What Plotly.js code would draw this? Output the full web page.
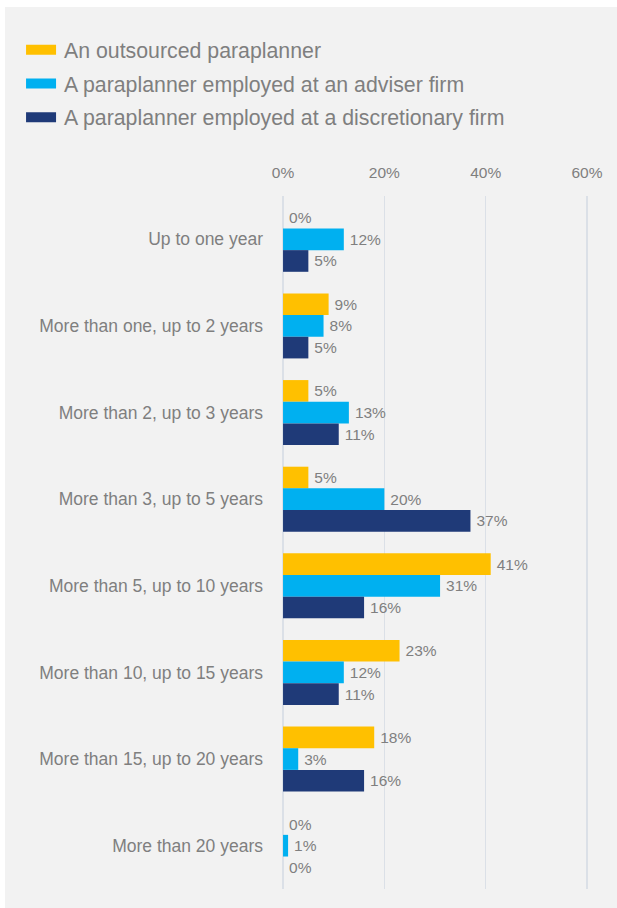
<!DOCTYPE html>
<html>
<head>
<meta charset="utf-8">
<script src="https://cdn.plot.ly/plotly-3.0.1.min.js"></script>
<style>
  html, body { margin: 0; padding: 0; background: #ffffff; }
  #chart { position: absolute; left: 5px; top: 7px; width: 612px; height: 901px; }
</style>
</head>
<body>
<div id="chart"></div>
<script>
const categories = [
  "Up to one year",
  "More than one, up to 2 years",
  "More than 2, up to 3 years",
  "More than 3, up to 5 years",
  "More than 5, up to 10 years",
  "More than 10, up to 15 years",
  "More than 15, up to 20 years",
  "More than 20 years"
];
const seriesNames = [
  "An outsourced paraplanner",
  "A paraplanner employed at an adviser firm",
  "A paraplanner employed at a discretionary firm"
];
const outsourced = [0, 9, 5, 5, 41, 23, 18, 0];
const adviser = [12, 8, 13, 20, 31, 12, 3, 1];
const discretionary = [5, 5, 11, 37, 16, 11, 16, 0];
const seriesColors = ["#FFC000", "#00B0F0", "#1F3A78"];
const tickVals = [0, 20, 40, 60];
const tickText = ["0%", "20%", "40%", "60%"];

const font = "Arial, 'Liberation Sans', sans-serif";
const grey = "#7f7f7f";

const data = [outsourced, adviser, discretionary].map((vals, i) => ({
  type: "bar",
  orientation: "h",
  name: seriesNames[i],
  legendgroup: "g" + i,
  y: categories,
  x: vals,
  text: vals.map(v => v + "%"),
  textposition: "outside",
  cliponaxis: false,
  textfont: { family: font, size: 15.5, color: grey },
  marker: { color: seriesColors[i], line: { width: 0 } },
  hoverinfo: "none"
}));

const layout = {
  width: 612,
  height: 901,
  paper_bgcolor: "#f2f2f2",
  plot_bgcolor: "#f2f2f2",
  font: { family: font, color: grey },
  barmode: "group",
  bargap: 0.25,
  bargroupgap: 0,
  margin: { l: 276, r: 28, t: 189, b: 19 },
  showlegend: true,
  legend: {
    x: -0.844,
    xanchor: "left",
    y: 1.2404,
    yanchor: "top",
    orientation: "v",
    traceorder: "grouped",
    tracegroupgap: 3,
    itemwidth: 30,
    bgcolor: "rgba(0,0,0,0)",
    font: { family: font, size: 21.3, color: grey }
  },
  xaxis: {
    side: "top",
    range: [-0.4, 60.4],
    tickvals: tickVals,
    ticktext: tickText,
    showgrid: true,
    gridcolor: "#dbe0e7",
    gridwidth: 1.5,
    zeroline: false,
    showline: false,
    ticks: "",
    ticklabelstandoff: 14,
    tickfont: { family: font, size: 15.5, color: grey },
    fixedrange: true
  },
  yaxis: {
    autorange: "reversed",
    type: "category",
    showgrid: false,
    zeroline: false,
    showline: false,
    ticks: "",
    ticklabelstandoff: 17,
    tickfont: { family: font, size: 17.5, color: grey },
    fixedrange: true
  }
};

Plotly.newPlot("chart", data, layout, { displayModeBar: false, staticPlot: true }).then(() => {
  document.querySelectorAll("#chart .legendpoints path").forEach(p => {
    p.setAttribute("d", "M-15,5H15V-5H-15Z");
    p.style.strokeWidth = "0";
  });
  document.querySelectorAll("#chart .legendtext").forEach(t => {
    const x = parseFloat(t.getAttribute("x") || "0");
    t.setAttribute("x", x + 3);
  });
  document.querySelectorAll("#chart text.bartext").forEach(t => {
    const tr = t.getAttribute("transform") || "";
    t.setAttribute("transform", "translate(3,0) " + tr);
  });
});
</script>
</body>
</html>
